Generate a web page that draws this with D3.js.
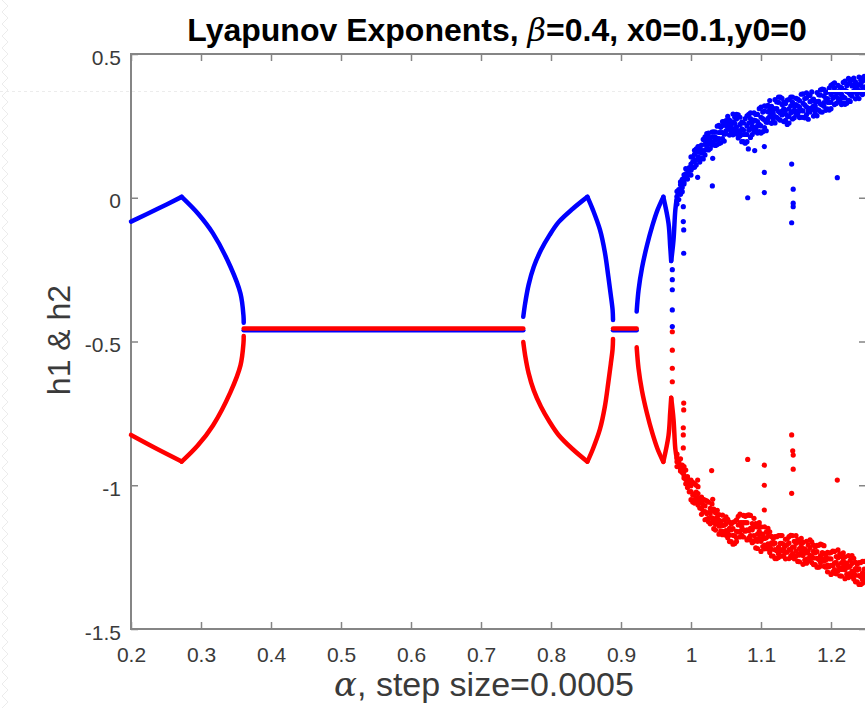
<!DOCTYPE html>
<html>
<head>
<meta charset="utf-8">
<script src="https://cdn.jsdelivr.net/npm/d3@7"></script>
<style>
  body { margin: 0; background: #fff; }
  svg { display: block; font-family: "Liberation Sans", Arial, sans-serif; }
</style>
</head>
<body>
<svg id="chart" width="865" height="713"></svg>
<script>
// tick values
const alphaTicks = [0.2, 0.3, 0.4, 0.5, 0.6, 0.7, 0.8, 0.9, 1, 1.1, 1.2];
const hTicks = [0.5, 0, -0.5, -1, -1.5];

// smooth parts of h1 (blue) as [alpha, h]
const h1Branches = [
  [[0.2, -0.083], [0.236, -0.041], [0.2724, 0.003]],
  [[0.2724, 0.003], [0.2953, -0.054], [0.3171, -0.124], [0.3421, -0.24], [0.3564, -0.333], [0.3607, -0.411], [0.361, -0.435]],
  [[0.7604, -0.414], [0.7631, -0.367], [0.768, -0.303], [0.7754, -0.24], [0.7857, -0.182], [0.7979, -0.13],
   [0.8111, -0.084], [0.8307, -0.039], [0.852, 0.003]],
  [[0.852, 0.003], [0.86, -0.043], [0.87, -0.112], [0.8769, -0.189], [0.8819, -0.274], [0.8854, -0.338],
   [0.888, -0.39], [0.8886, -0.425]],
  [[0.9224, -0.396], [0.9251, -0.321], [0.93, -0.244], [0.9369, -0.168], [0.9447, -0.098], [0.9521, -0.043], [0.9605, 0.003]],
  [[0.9605, 0.003], [0.9679, -0.089], [0.9703, -0.17], [0.9717, -0.22]],
  [[0.9717, -0.22], [0.975, -0.147], [0.9776, -0.043], [0.980, 0.004]]
];
// smooth parts of h2 (red)
const h2Branches = [
  [[0.2, -0.825], [0.236, -0.872], [0.2724, -0.917]],
  [[0.2724, -0.918], [0.2953, -0.862], [0.3171, -0.792], [0.3421, -0.676], [0.3564, -0.583], [0.3607, -0.505], [0.361, -0.481]],
  [[0.7604, -0.502], [0.7631, -0.549], [0.768, -0.61], [0.7754, -0.67], [0.7857, -0.727], [0.7979, -0.779],
   [0.8111, -0.826], [0.8307, -0.874], [0.852, -0.918]],
  [[0.852, -0.918], [0.86, -0.873], [0.87, -0.804], [0.8769, -0.727], [0.8819, -0.642], [0.8854, -0.578],
   [0.888, -0.526], [0.8886, -0.491]],
  [[0.9224, -0.52], [0.9251, -0.595], [0.93, -0.672], [0.9369, -0.748], [0.9447, -0.818], [0.9521, -0.873], [0.9605, -0.919]],
  [[0.9605, -0.918], [0.9679, -0.827], [0.9703, -0.746], [0.9717, -0.696]],
  [[0.9717, -0.696], [0.975, -0.77], [0.9776, -0.873], [0.980, -0.912]]
];
// period-1 plateaus
const h1Flat = [[[0.361, -0.461], [0.7604, -0.461]], [[0.8886, -0.461], [0.9224, -0.461]]];
const h2Flat = [[[0.361, -0.455], [0.7604, -0.455]], [[0.8886, -0.455], [0.9224, -0.455]]];

// isolated dots
const h1Dots = [
  [0.9733, -0.25], [0.9733, -0.285], [0.9733, -0.32], [0.9733, -0.39], [0.9733, -0.448],
  [0.9896, -0.193], [0.9896, -0.112], [0.989, -0.083], [0.989, -0.031],
  [1.0095, 0.071], [1.0305, 0.041], [1.031, 0.137], [1.081, 0.0], [1.0819, 0.17], [1.091, 0.164],
  [1.1047, 0.178], [1.1047, 0.088], [1.1047, 0.018], [1.1438, 0.117], [1.146, 0.03],
  [1.146, -0.019], [1.146, -0.031], [1.1438, -0.087], [1.209, 0.07]
];
const h2Dots = [
  [0.9733, -0.466], [0.9733, -0.53], [0.9733, -0.593], [0.9733, -0.64],
  [0.9896, -0.714], [0.9896, -0.738], [0.989, -0.80], [0.989, -0.825], [0.989, -0.87],
  [1.0095, -0.982], [1.0295, -0.949], [1.031, -1.049], [1.081, -0.91], [1.1047, -0.93],
  [1.1047, -1.0], [1.1047, -1.086], [1.1438, -0.825], [1.1453, -0.88], [1.146, -0.895],
  [1.146, -0.944], [1.1438, -1.028], [1.209, -0.982]
];

// chaotic band: alpha and the dots seen at each alpha
const alphaCloud = [0.980, 0.985, 0.990, 0.995, 1.000, 1.005, 1.010, 1.015, 1.020, 1.025,
  1.030, 1.035, 1.040, 1.045, 1.050, 1.055, 1.060, 1.065, 1.070, 1.075,
  1.080, 1.085, 1.090, 1.095, 1.100, 1.105, 1.110, 1.115, 1.120, 1.125,
  1.130, 1.135, 1.140, 1.145, 1.150, 1.155, 1.160, 1.165, 1.170, 1.175,
  1.180, 1.185, 1.190, 1.195, 1.200, 1.205, 1.210, 1.215, 1.220, 1.225,
  1.230, 1.235, 1.240, 1.245, 1.250];
const h1Cloud = [
  [0.022, 0.005, -0.010, -0.022], [0.045, 0.028, 0.012, 0.055], [0.068, 0.080, 0.048, 0.055], [0.065, 0.098, 0.085, 0.078],
  [0.142, 0.117, 0.096, 0.079], [0.151, 0.127, 0.106, 0.165], [0.161, 0.178, 0.133, 0.143], [0.137, 0.183, 0.165, 0.155],
  [0.212, 0.187, 0.166, 0.149], [0.211, 0.187, 0.166, 0.225], [0.211, 0.228, 0.183, 0.193], [0.182, 0.228, 0.210, 0.200],
  [0.252, 0.227, 0.206, 0.189], [0.251, 0.227, 0.206, 0.265], [0.251, 0.268, 0.223, 0.233], [0.218, 0.270, 0.250, 0.238],
  [0.291, 0.263, 0.239, 0.219], [0.274, 0.246, 0.222, 0.290], [0.255, 0.280, 0.215, 0.230], [0.195, 0.260, 0.235, 0.220],
  [0.285, 0.250, 0.220, 0.195], [0.275, 0.240, 0.210, 0.295], [0.270, 0.295, 0.230, 0.245], [0.225, 0.290, 0.265, 0.250],
  [0.315, 0.280, 0.250, 0.225], [0.302, 0.270, 0.244, 0.320], [0.299, 0.321, 0.263, 0.276], [0.259, 0.318, 0.295, 0.282],
  [0.341, 0.309, 0.282, 0.260], [0.332, 0.300, 0.274, 0.350], [0.324, 0.346, 0.288, 0.301], [0.269, 0.328, 0.305, 0.292],
  [0.341, 0.309, 0.282, 0.260], [0.332, 0.300, 0.274, 0.350], [0.324, 0.346, 0.288, 0.301], [0.279, 0.338, 0.315, 0.302],
  [0.361, 0.329, 0.302, 0.280], [0.347, 0.316, 0.289, 0.365], [0.334, 0.356, 0.298, 0.311], [0.284, 0.343, 0.320, 0.307],
  [0.366, 0.334, 0.307, 0.285], [0.357, 0.326, 0.299, 0.375], [0.354, 0.376, 0.318, 0.331], [0.309, 0.368, 0.345, 0.332],
  [0.391, 0.359, 0.332, 0.310], [0.382, 0.351, 0.324, 0.400], [0.369, 0.391, 0.333, 0.346], [0.324, 0.383, 0.360, 0.347],
  [0.406, 0.374, 0.347, 0.325], [0.397, 0.366, 0.339, 0.415], [0.389, 0.411, 0.353, 0.366], [0.344, 0.403, 0.380, 0.367],
  [0.420, 0.394, 0.367, 0.345], [0.417, 0.386, 0.359, 0.405], [0.409, 0.415, 0.373, 0.386]
];
const h2Cloud = [
  [-0.892, -0.918, -0.935, -0.905], [-0.942, -0.908, -0.930, -0.950], [-0.950, -0.975, -0.935, -0.965], [-1.008, -0.982, -0.970, -0.995],
  [-0.982, -1.022, -1.050, -1.002], [-1.050, -0.994, -1.030, -1.062], [-1.029, -1.069, -1.005, -1.053], [-1.101, -1.061, -1.041, -1.081],
  [-1.052, -1.092, -1.120, -1.072], [-1.115, -1.059, -1.095, -1.127], [-1.089, -1.129, -1.065, -1.113], [-1.156, -1.116, -1.096, -1.136],
  [-1.102, -1.142, -1.170, -1.122], [-1.160, -1.104, -1.140, -1.172], [-1.134, -1.174, -1.110, -1.158], [-1.196, -1.150, -1.128, -1.173],
  [-1.129, -1.174, -1.205, -1.151], [-1.183, -1.120, -1.160, -1.196], [-1.130, -1.180, -1.100, -1.160], [-1.180, -1.130, -1.105, -1.155],
  [-1.105, -1.155, -1.190, -1.130], [-1.175, -1.105, -1.150, -1.190], [-1.145, -1.195, -1.115, -1.175], [-1.220, -1.170, -1.145, -1.195],
  [-1.145, -1.195, -1.230, -1.170], [-1.208, -1.145, -1.185, -1.221], [-1.177, -1.222, -1.150, -1.204], [-1.246, -1.200, -1.178, -1.223],
  [-1.179, -1.224, -1.255, -1.201], [-1.238, -1.175, -1.215, -1.251], [-1.202, -1.247, -1.175, -1.229], [-1.256, -1.210, -1.188, -1.233],
  [-1.179, -1.224, -1.255, -1.201], [-1.238, -1.175, -1.215, -1.251], [-1.202, -1.247, -1.175, -1.229], [-1.266, -1.220, -1.198, -1.243],
  [-1.199, -1.244, -1.275, -1.221], [-1.258, -1.195, -1.235, -1.271], [-1.217, -1.262, -1.190, -1.244], [-1.276, -1.230, -1.208, -1.253],
  [-1.209, -1.254, -1.285, -1.231], [-1.268, -1.205, -1.245, -1.281], [-1.237, -1.282, -1.210, -1.264], [-1.301, -1.255, -1.233, -1.278],
  [-1.234, -1.279, -1.310, -1.256], [-1.293, -1.230, -1.270, -1.306], [-1.252, -1.297, -1.225, -1.279], [-1.316, -1.270, -1.248, -1.293],
  [-1.249, -1.294, -1.325, -1.271], [-1.308, -1.245, -1.285, -1.321], [-1.272, -1.317, -1.245, -1.299], [-1.336, -1.290, -1.268, -1.313],
  [-1.269, -1.314, -1.345, -1.291], [-1.328, -1.265, -1.305, -1.341], [-1.292, -1.337, -1.265, -1.319]
];

// more dots of the band, between the alphas above
const alphaCloudMid = [0.9825, 0.9875, 0.9925, 0.9975, 1.0025, 1.0075, 1.0125, 1.0175, 1.0225, 1.0275,
  1.0325, 1.0375, 1.0425, 1.0475, 1.0525, 1.0575, 1.0625, 1.0675, 1.0725, 1.0775,
  1.0825, 1.0875, 1.0925, 1.0975, 1.1025, 1.1075, 1.1125, 1.1175, 1.1225, 1.1275,
  1.1325, 1.1375, 1.1425, 1.1475, 1.1525, 1.1575, 1.1625, 1.1675, 1.1725, 1.1775,
  1.1825, 1.1875, 1.1925, 1.1975, 1.2025, 1.2075, 1.2125, 1.2175, 1.2225, 1.2275,
  1.2325, 1.2375, 1.2425, 1.2475];
const h1CloudMid = [
  [0.028, -0.006, 0.016], [0.036, 0.064, 0.021], [0.101, 0.068, 0.083], [0.080, 0.105, 0.096],
  [0.125, 0.141, 0.104], [0.114, 0.170, 0.131], [0.178, 0.124, 0.160], [0.159, 0.203, 0.135],
  [0.223, 0.179, 0.199], [0.171, 0.205, 0.193], [0.211, 0.229, 0.187], [0.185, 0.249, 0.205],
  [0.245, 0.191, 0.227], [0.221, 0.265, 0.197], [0.283, 0.239, 0.259], [0.226, 0.264, 0.250],
  [0.259, 0.280, 0.232], [0.208, 0.288, 0.233], [0.263, 0.195, 0.240], [0.220, 0.275, 0.190],
  [0.290, 0.235, 0.260], [0.220, 0.263, 0.248], [0.268, 0.290, 0.238], [0.230, 0.310, 0.255],
  [0.298, 0.230, 0.275], [0.263, 0.318, 0.233], [0.338, 0.283, 0.308], [0.268, 0.310, 0.295],
  [0.310, 0.333, 0.280], [0.270, 0.350, 0.295], [0.333, 0.265, 0.310], [0.285, 0.340, 0.255],
  [0.350, 0.295, 0.320], [0.278, 0.320, 0.305], [0.320, 0.343, 0.290], [0.280, 0.360, 0.305],
  [0.345, 0.278, 0.323], [0.303, 0.358, 0.273], [0.368, 0.313, 0.338], [0.293, 0.335, 0.320],
  [0.335, 0.358, 0.305], [0.298, 0.378, 0.323], [0.365, 0.304, 0.345], [0.332, 0.381, 0.305],
  [0.395, 0.346, 0.368], [0.328, 0.366, 0.353], [0.364, 0.385, 0.337], [0.329, 0.401, 0.351],
  [0.390, 0.329, 0.370], [0.359, 0.403, 0.335], [0.416, 0.372, 0.392], [0.359, 0.393, 0.381],
  [0.393, 0.409, 0.372], [0.366, 0.422, 0.384]
];
const h2CloudMid = [
  [-0.935, -0.914, -0.921], [-0.941, -0.930, -0.956], [-0.995, -0.947, -0.980], [-0.983, -1.023, -0.996],
  [-1.034, -0.990, -1.058], [-1.000, -1.044, -1.024], [-1.079, -1.045, -1.057], [-1.067, -1.049, -1.091],
  [-1.118, -1.054, -1.098], [-1.080, -1.134, -1.098], [-1.127, -1.083, -1.151], [-1.087, -1.131, -1.111],
  [-1.159, -1.125, -1.137], [-1.139, -1.121, -1.163], [-1.183, -1.119, -1.163], [-1.135, -1.196, -1.155],
  [-1.176, -1.126, -1.203], [-1.108, -1.163, -1.138], [-1.173, -1.130, -1.145], [-1.130, -1.108, -1.160],
  [-1.183, -1.103, -1.158], [-1.133, -1.200, -1.155], [-1.188, -1.133, -1.218], [-1.130, -1.185, -1.160],
  [-1.213, -1.170, -1.185], [-1.183, -1.163, -1.210], [-1.234, -1.162, -1.211], [-1.185, -1.246, -1.205],
  [-1.228, -1.179, -1.255], [-1.175, -1.224, -1.202], [-1.245, -1.206, -1.220], [-1.206, -1.186, -1.233],
  [-1.246, -1.174, -1.224], [-1.195, -1.256, -1.215], [-1.238, -1.189, -1.265], [-1.185, -1.234, -1.212],
  [-1.260, -1.221, -1.235], [-1.228, -1.208, -1.255], [-1.269, -1.197, -1.246], [-1.215, -1.276, -1.235],
  [-1.258, -1.209, -1.285], [-1.207, -1.257, -1.234], [-1.285, -1.246, -1.260], [-1.256, -1.236, -1.283],
  [-1.301, -1.229, -1.279], [-1.248, -1.308, -1.268], [-1.288, -1.239, -1.315], [-1.235, -1.284, -1.262],
  [-1.310, -1.271, -1.285], [-1.281, -1.261, -1.308], [-1.326, -1.254, -1.304], [-1.275, -1.336, -1.295],
  [-1.318, -1.269, -1.345], [-1.265, -1.314, -1.292]
];

const svg = d3.select("#chart");
const x = d3.scaleLinear().domain([0.2, 1.25]).range([131, 866]);
const y = d3.scaleLinear().domain([-1.5, 0.5]).range([629, 54]);

svg.append("rect").attr("width", 865).attr("height", 713).attr("fill", "#fff");

// faint marks of the screenshot: zigzag left edge and a dotted guide
const zig = d3.range(0, 713, 6).map((v, i) => [i % 2 ? 8 : 2, v]);
svg.append("path").attr("d", d3.line()(zig))
  .attr("fill", "none").attr("stroke", "#ececec").attr("stroke-width", 1);
svg.append("line")
  .attr("x1", 0).attr("x2", 865).attr("y1", 91.5).attr("y2", 91.5)
  .attr("stroke", "#ececec").attr("stroke-dasharray", "3,3");

// box
svg.append("rect")
  .attr("x", 131).attr("y", 54).attr("width", 735).attr("height", 575)
  .attr("fill", "none").attr("stroke", "#858585").attr("stroke-width", 2);

function styleAxis(g) {
  g.select(".domain").remove();
  g.selectAll(".tick line").attr("stroke", "#858585").attr("stroke-width", 1.5);
  g.selectAll(".tick text").attr("fill", "#3a3a3a").attr("font-size", 21);
}

svg.append("g").attr("transform", "translate(0,629)")
  .call(d3.axisBottom(x).tickValues(alphaTicks).tickSize(-7).tickPadding(18).tickFormat(d => String(d)))
  .call(styleAxis);
svg.append("g").attr("transform", "translate(0,54)")
  .call(d3.axisTop(x).tickValues(alphaTicks).tickSize(-7).tickFormat(""))
  .call(styleAxis);
svg.append("g").attr("transform", "translate(131,0)")
  .call(d3.axisLeft(y).tickValues(hTicks).tickSize(-7).tickPadding(10).tickFormat(d => String(d)))
  .call(styleAxis)
  .selectAll(".tick text").attr("dy", "0.48em");
svg.append("g").attr("transform", "translate(866,0)")
  .call(d3.axisRight(y).tickValues(hTicks).tickSize(-7).tickFormat(""))
  .call(styleAxis);

const line = d3.line().x(d => x(d[0])).y(d => y(d[1])).curve(d3.curveCatmullRom.alpha(0.5));

function drawSeries(branches, flats, dots, clouds, color) {
  const g = svg.append("g");
  g.selectAll(".br").data(branches.concat(flats)).enter().append("path")
    .attr("d", line).attr("fill", "none").attr("stroke", color)
    .attr("stroke-width", 4.5).attr("stroke-linecap", "round").attr("stroke-linejoin", "round");
  const pts = dots.slice();
  clouds.forEach(([alphas, vals]) =>
    alphas.forEach((a, i) => vals[i].forEach(v => pts.push([a, v]))));
  g.selectAll("circle").data(pts).enter().append("circle")
    .attr("cx", d => x(d[0])).attr("cy", d => y(d[1])).attr("r", 2.6)
    .attr("fill", color);
}
drawSeries(h1Branches, h1Flat, h1Dots, [[alphaCloud, h1Cloud], [alphaCloudMid, h1CloudMid]], "#0000ff");
drawSeries(h2Branches, h2Flat, h2Dots, [[alphaCloud, h2Cloud], [alphaCloudMid, h2CloudMid]], "#ff0000");

// white streak over the top right of the band, as in the screenshot
svg.append("line")
  .attr("x1", 828).attr("x2", 865).attr("y1", 91).attr("y2", 91)
  .attr("stroke", "#fff").attr("stroke-width", 2);

// title
const title = svg.append("text")
  .attr("x", 497).attr("y", 41).attr("text-anchor", "middle")
  .attr("font-size", 32).attr("font-weight", "bold").attr("fill", "#000");
title.append("tspan").text("Lyapunov Exponents, ");
title.append("tspan").attr("font-family", "DejaVu Serif").attr("font-style", "italic")
  .attr("font-weight", "normal").text("β");
title.append("tspan").text("=0.4, x0=0.1,y0=0");

// x label
const xl = svg.append("text")
  .attr("x", 484).attr("y", 696).attr("text-anchor", "middle")
  .attr("font-size", 34).attr("fill", "#3a3a3a");
xl.append("tspan").attr("font-family", "DejaVu Serif").attr("font-style", "italic").text("α");
xl.append("tspan").text(", step size=0.0005");

// y label
svg.append("text")
  .attr("transform", "translate(70,340) rotate(-90)")
  .attr("text-anchor", "middle").attr("font-size", 32).attr("fill", "#3a3a3a")
  .text("h1 & h2");
</script>
</body>
</html>
